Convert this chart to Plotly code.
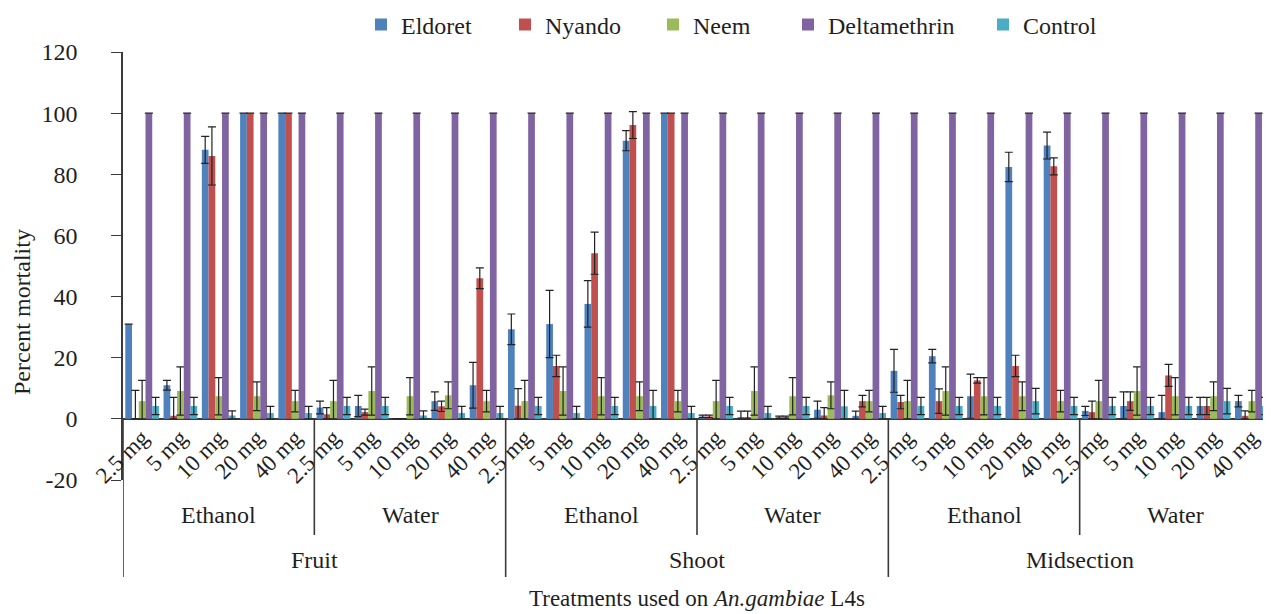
import plotly.graph_objects as go

# ---------------- data ----------------
parts = ["Fruit", "Shoot", "Midsection"]
solvents = ["Ethanol", "Water"]
doses = ["2.5 mg", "5 mg", "10 mg", "20 mg", "40 mg"]

series_names = ["Eldoret", "Nyando", "Neem", "Deltamethrin", "Control"]
series_colors = ["#4F81BD", "#C0504D", "#9BBB59", "#8064A2", "#4BACC6"]

# order: Fruit-Ethanol, Fruit-Water, Shoot-Ethanol, Shoot-Water, Mid-Ethanol, Mid-Water (5 doses each)
eldoret = [31, 11, 88, 100, 100,
           3.7, 4.2, 0, 5.8, 11,
           29.3, 31, 37.6, 91, 100,
           0.8, 0.5, 0.5, 3, 1,
           15.7, 20.5, 7.4, 82.4, 89.4,
           2.6, 4.2, 2.2, 4.2, 5.8]
eldoret_err = [0, 1.6, 4.4, 0, 0,
               2.1, 3.5, 0, 3, 7.5,
               5, 11, 7.6, 3.3, 0,
               0.4, 2, 0.4, 2.8, 1.5,
               7, 2.2, 7.2, 4.8, 4.4,
               1.5, 4.6, 5.5, 2.8, 1.9]

nyando = [0, 1, 86, 100, 100,
          1.5, 2.2, 0, 4.1, 46,
          4.3, 17.3, 54.2, 96.1, 100,
          0.8, 0.5, 0.5, 1.1, 5.8,
          5.5, 5.8, 12.6, 17.3, 82.6,
          2.2, 5.8, 14.2, 4.2, 1]
nyando_err = [9.3, 6, 9.5, 0, 0,
              2.2, 1, 0, 1.7, 3.4,
              5.6, 3.5, 6.9, 4.4, 0,
              0.4, 2, 0.4, 2.6, 1.9,
              2.2, 4, 0.9, 3.5, 2.8,
              3.6, 3, 3.6, 2.8, 1.6]

neem = [5.8, 9.1, 7.4, 7.4, 5.8,
        5.8, 9.1, 7.4, 7.7, 5.8,
        5.8, 9.1, 7.4, 7.4, 5.8,
        5.8, 9.1, 7.4, 7.7, 5.8,
        5.8, 9.1, 7.4, 7.4, 5.8,
        5.8, 9.1, 7.4, 7.4, 5.8]
neem_err = [6.8, 7.9, 6.1, 4.7, 3.5,
            6.8, 7.9, 6.1, 4.4, 3.5,
            6.8, 7.9, 6.1, 4.7, 3.5,
            6.8, 7.9, 6.1, 4.4, 3.5,
            6.8, 7.9, 6.1, 4.7, 3.5,
            6.8, 7.9, 6.1, 4.7, 3.5]

deltamethrin = [100] * 30
deltamethrin_err = [0] * 30

control = [4.2, 4.2, 1.1, 1.9, 1.9,
           4.2, 4.2, 1.1, 1.9, 1.9,
           4.2, 1.9, 4.2, 4.2, 1.9,
           4.2, 1.9, 4.2, 4.1, 1.9,
           4.2, 4.2, 4.2, 5.8, 4.2,
           4.2, 4.2, 4.2, 5.8, 4.2]
control_err = [2.8, 2.8, 1.5, 2.2, 2.2,
               2.8, 2.8, 1.5, 2.2, 2.2,
               2.8, 2.2, 2.8, 5.1, 2.2,
               2.8, 2.2, 2.8, 5.2, 2.2,
               2.8, 2.8, 2.8, 4.2, 2.8,
               2.8, 2.8, 2.8, 4.2, 2.8]

y_ticks = [-20, 0, 20, 40, 60, 80, 100, 120]
y_tick_labels = ["-20", "0", "20", "40", "60", "80", "100", "120"]

# ---------------- figure ----------------
FONT = "Liberation Serif, Times New Roman, serif"
TXT = "#1f1f1f"
LINE = "#3a3a3a"

n_cat = len(parts) * len(solvents) * len(doses)
xpos = list(range(n_cat))
tick_text = doses * (len(parts) * len(solvents))

values = [eldoret, nyando, neem, deltamethrin, control]
errors = [eldoret_err, nyando_err, neem_err, deltamethrin_err, control_err]
legend_ids = ["legend", "legend2", "legend3", "legend4", "legend5"]

# page geometry (the page body has an 8px margin, compensate for it)
OFF = 8
PAGE_W, PAGE_H = 1271, 614
PLOT_L, PLOT_R, PLOT_T, PLOT_B = 123, 1271, 52, 480   # plot area in page pixels
W, H = PAGE_W - OFF, PAGE_H - OFF
L, T = PLOT_L - OFF, PLOT_T - OFF
R, B = PAGE_W - PLOT_R, PAGE_H - PLOT_B
plot_h = PLOT_B - PLOT_T
plot_w = PLOT_R - PLOT_L
def py(p):  # page pixel y -> paper y
    return (PLOT_B - p) / plot_h
def px(p):  # page pixel x -> paper x
    return (p - PLOT_L) / plot_w

fig = go.Figure()
for name, col, vals, errs, lg in zip(series_names, series_colors, values, errors, legend_ids):
    fig.add_trace(go.Bar(
        x=xpos, y=vals, name=name, legend=lg,
        marker=dict(color=col, line=dict(width=0)),
        error_y=dict(type="data", symmetric=False, array=errs,
                     arrayminus=[min(e, v) for e, v in zip(errs, vals)],
                     color="#222222", thickness=1.2, width=4),
    ))

zero_paper = (0 - (-20)) / 140.0

shapes = []
n_sub = len(parts) * len(solvents)
for k in range(n_sub + 1):
    xb = k * len(doses) - 0.5
    long = (k % 2 == 0)
    shapes.append(dict(type="line", xref="x", yref="paper",
                       x0=xb, x1=xb, y0=zero_paper, y1=py(577 if long else 535),
                       line=dict(color=LINE, width=1.6)))

annotations = []
for i, part in enumerate(parts):
    for j, solv in enumerate(solvents):
        k = i * 2 + j
        annotations.append(dict(x=k * 5 + 2, y=py(515), xref="x", yref="paper",
                                xanchor="center", yanchor="middle",
                                text=solv, showarrow=False,
                                font=dict(family=FONT, size=24, color=TXT)))
    annotations.append(dict(x=i * 10 + 4.5, y=py(560), xref="x", yref="paper",
                            xanchor="center", yanchor="middle",
                            text=part, showarrow=False,
                            font=dict(family=FONT, size=24, color=TXT)))
annotations.append(dict(x=0.5, y=py(598), xref="paper", yref="paper",
                        xanchor="center", yanchor="middle",
                        text="Treatments used on <i>An.gambiae</i> L4s", showarrow=False,
                        font=dict(family=FONT, size=23, color=TXT)))
annotations.append(dict(x=px(22), y=py(312), xref="paper", yref="paper",
                        xanchor="center", yanchor="middle",
                        text="Percent mortality", textangle=-90, showarrow=False,
                        font=dict(family=FONT, size=24, color=TXT)))

# legend entries, one per series, placed along the top
legend_text_start = [409, 553, 701, 836, 1031]
legend_layouts = {}
for lg, xs in zip(legend_ids, legend_text_start):
    legend_layouts[lg] = dict(orientation="h", x=px(xs - 48), xanchor="left",
                              y=py(25), yanchor="middle",
                              font=dict(family=FONT, size=24, color=TXT),
                              bgcolor="rgba(0,0,0,0)", itemclick=False)

fig.update_layout(
    width=W, height=H,
    margin=dict(l=L, r=R, t=T, b=B, pad=0, autoexpand=False),
    paper_bgcolor="white", plot_bgcolor="white",
    barmode="group", bargap=0.12, bargroupgap=0,
    font=dict(family=FONT, size=22, color=TXT),
    showlegend=True,
    shapes=shapes,
    annotations=annotations,
    xaxis=dict(range=[-0.5, n_cat - 0.5], tickmode="array", tickvals=xpos, ticktext=tick_text,
               tickangle=-45, showline=False, ticks="", showgrid=False, zeroline=False,
               anchor="free", position=zero_paper, automargin=False,
               tickfont=dict(family=FONT, size=23, color=TXT)),
    yaxis=dict(range=[-20, 120], tickmode="array", tickvals=y_ticks, ticktext=y_tick_labels,
               showgrid=False,
               showline=True, linecolor=LINE, linewidth=1.6,
               ticks="outside", ticklen=10, tickcolor=LINE, tickwidth=1.4,
               ticklabelstandoff=29, automargin=False,
               zeroline=True, zerolinecolor=LINE, zerolinewidth=1.6,
               tickfont=dict(family=FONT, size=24, color=TXT)),
    **legend_layouts,
)

fig.write_html("out.html")
